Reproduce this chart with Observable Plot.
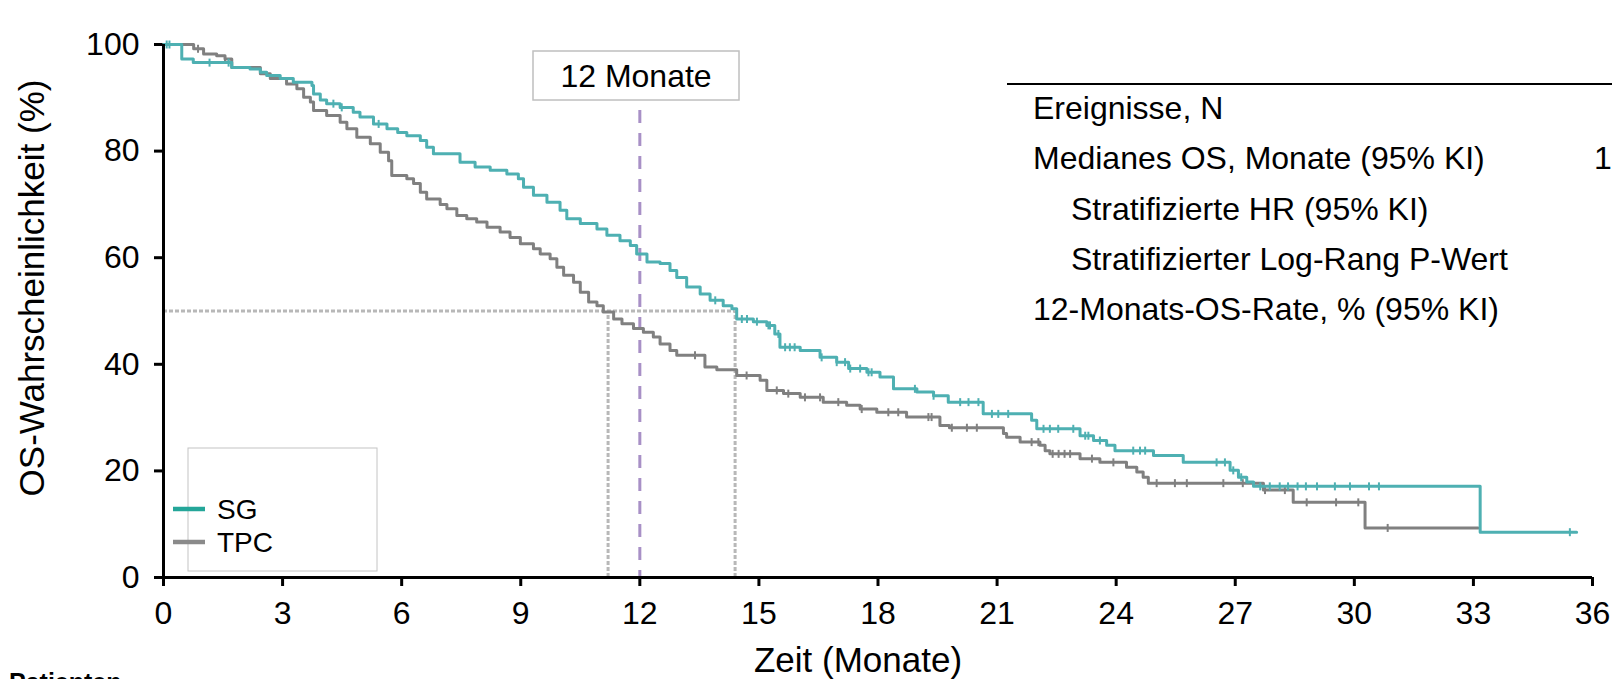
<!DOCTYPE html>
<html>
<head>
<meta charset="utf-8">
<script src="https://cdn.jsdelivr.net/npm/d3@7"></script>
<script src="https://cdn.jsdelivr.net/npm/@observablehq/plot@0.6"></script>
<style>
  html, body { margin: 0; padding: 0; background: #fff; }
  #wrap { width: 1612px; height: 679px; overflow: hidden; position: relative; }
</style>
</head>
<body>
<div id="wrap"></div>
<script>
// ---------- DATA ----------
const seriesNames = ["SG", "TPC"];

const sgTime = [0, 0.46, 0.75, 1.72, 2.18, 2.44, 2.6, 2.94, 3.27, 3.74, 3.78, 3.95, 4.11, 4.45, 4.78, 4.95, 5.29, 5.63, 5.9, 6.13, 6.47, 6.63, 6.8, 7.47, 7.85, 8.23, 8.65, 8.94, 9.07, 9.32, 9.66, 9.99, 10.16, 10.5, 10.92, 11.17, 11.5, 11.76, 11.92, 12.18, 12.51, 12.76, 12.93, 13.18, 13.52, 13.77, 14.1, 14.32, 14.44, 14.86, 15.2, 15.4, 15.53, 16.04, 16.54, 16.96, 17.26, 17.72, 18.05, 18.39, 18.98, 19.4, 19.77, 20.65, 21.87, 22.0, 23.09, 23.43, 23.76, 23.97, 24.94, 25.69, 26.87, 27.08, 27.29, 27.46, 33.17, 35.6];
const sgSurv = [100, 97.3, 96.6, 95.7, 95.4, 94.8, 94.2, 93.6, 92.9, 92.3, 90.7, 89.6, 88.9, 88.2, 87.3, 86.4, 85.1, 84.2, 83.5, 82.9, 82.0, 80.7, 79.5, 77.9, 77.0, 76.4, 75.7, 74.8, 73.2, 71.7, 70.4, 68.9, 67.3, 66.4, 65.4, 64.2, 63.2, 62.3, 60.7, 59.2, 58.9, 57.6, 56.3, 54.5, 53.2, 52.0, 51.0, 50.4, 48.5, 48.0, 47.3, 45.7, 43.2, 42.6, 41.3, 40.4, 39.2, 38.5, 37.6, 35.4, 34.8, 34.1, 32.9, 30.7, 29.5, 27.9, 26.6, 25.7, 24.8, 23.8, 22.9, 21.6, 20.1, 18.8, 17.9, 17.1, 8.5, 8.5];

const tpcTime = [0, 0.76, 1.01, 1.34, 1.55, 1.72, 2.44, 2.69, 3.1, 3.36, 3.53, 3.7, 3.78, 4.11, 4.45, 4.62, 4.87, 5.21, 5.46, 5.67, 5.75, 6.13, 6.3, 6.47, 6.63, 6.97, 7.14, 7.39, 7.64, 7.89, 8.15, 8.48, 8.73, 8.99, 9.32, 9.49, 9.74, 9.91, 10.08, 10.33, 10.5, 10.71, 10.92, 11.08, 11.34, 11.55, 11.84, 12.09, 12.34, 12.51, 12.76, 12.93, 13.64, 13.94, 14.44, 15.03, 15.2, 15.62, 16.04, 16.62, 17.21, 17.55, 17.97, 18.72, 19.56, 19.8, 21.16, 21.24, 21.58, 22.08, 22.21, 22.33, 23.09, 23.59, 24.26, 24.52, 24.68, 24.81, 27.71, 28.46, 30.27, 33.12];
const tpcSurv = [100, 99.2, 98.2, 97.9, 97.3, 95.7, 94.5, 93.6, 92.6, 91.7, 90.1, 89.2, 87.6, 86.7, 85.4, 84.2, 82.6, 81.4, 79.8, 78.2, 75.4, 74.8, 73.9, 72.3, 71.0, 70.0, 69.2, 67.9, 67.3, 66.7, 65.7, 64.8, 63.8, 62.6, 61.7, 60.7, 59.8, 58.2, 56.7, 55.4, 53.5, 51.7, 51.0, 49.8, 48.5, 47.6, 46.7, 46.0, 45.1, 43.8, 42.6, 41.7, 39.5, 39.0, 37.9, 37.0, 35.1, 34.5, 33.8, 32.9, 32.3, 31.6, 31.0, 30.1, 28.5, 28.1, 27.0, 26.3, 25.4, 24.8, 23.8, 23.2, 22.3, 21.6, 20.7, 19.8, 18.8, 17.7, 16.4, 14.1, 9.3, 9.3];

const sgCensor = [0.08, 0.15, 1.16, 1.64, 4.28, 4.49, 5.42, 13.9, 14.57, 14.7, 14.95, 15.24, 15.28, 15.49, 15.66, 15.78, 15.9, 16.58, 16.96, 17.17, 17.3, 17.55, 17.76, 17.84, 18.93, 19.4, 20.07, 20.28, 20.53, 20.87, 21.03, 21.28, 22.17, 22.33, 22.54, 22.92, 23.22, 23.3, 23.59, 24.43, 24.6, 24.73, 26.53, 26.74, 26.95, 27.15, 27.63, 27.87, 28.12, 28.33, 28.57, 28.78, 29.06, 29.51, 29.89, 30.37, 30.62, 35.43];
const tpcCensor = [0.87, 1.55, 13.39, 14.69, 15.45, 15.74, 16.16, 16.54, 17.0, 17.59, 18.26, 18.51, 19.27, 19.35, 19.86, 20.24, 20.49, 21.87, 22.04, 22.4, 22.55, 22.7, 22.84, 23.39, 23.93, 25.02, 25.48, 25.78, 26.7, 27.19, 27.75, 28.25, 28.8, 29.54, 30.1, 30.84];

const medianGroups = ["SG", "TPC"];
const medianMonths = [14.4, 11.2];
const medianLevel = 50;
const landmarkMonth = 12;
const landmarkLabel = "12 Monate";

const xTicks = [0, 3, 6, 9, 12, 15, 18, 21, 24, 27, 30, 33, 36];
const yTicks = [0, 20, 40, 60, 80, 100];
const xLabel = "Zeit (Monate)";
const yLabel = "OS-Wahrscheinlichkeit (%)";

const tableRows = ["Ereignisse, N", "Medianes OS, Monate (95% KI)", "Stratifizierte HR (95% KI)", "Stratifizierter Log-Rang P-Wert", "12-Monats-OS-Rate, % (95% KI)"];
const tableIndent = [0, 0, 1, 1, 0];
const tableSGValues = ["", "1", "", "", ""];
const footerLabel = "Patienten";

// ---------- STYLE ----------
const sgColor = "#4eb0b2";
const tpcColor = "#808080";
const sgLegendColor = "#24a699";
const tpcLegendColor = "#8a8a8a";
const font = "'Liberation Sans', Arial, sans-serif";

// ---------- BUILD ----------
const sgData = sgTime.map((t, i) => ({t, s: sgSurv[i]}));
const tpcData = tpcTime.map((t, i) => ({t, s: tpcSurv[i]}));
function survAt(times, vals, t) {
  let v = vals[0];
  for (let i = 0; i < times.length; i++) { if (times[i] <= t) v = vals[i]; else break; }
  return v;
}
const sgCens = sgCensor.map(t => ({t, s: survAt(sgTime, sgSurv, t)}));
const tpcCens = tpcCensor.map(t => ({t, s: survAt(tpcTime, tpcSurv, t)}));
const medians = medianGroups.map((g, i) => ({group: g, median: medianMonths[i]}));

const censorSymbol = {
  draw(context, size) {
    const h = Math.sqrt(size / Math.PI);
    context.moveTo(0, -h);
    context.lineTo(0, h);
  }
};

const chart = Plot.plot({
  width: 1612,
  height: 679,
  marginTop: 44,
  marginBottom: 102,
  marginLeft: 163,
  marginRight: 20,
  style: {fontFamily: font, fontSize: "32px", color: "#000", background: "#fff"},
  x: {domain: [0, 36]},
  y: {domain: [0, 100]},
  marks: [
    Plot.axisX({ticks: xTicks, tickSize: 9, tickPadding: 15, strokeWidth: 3, label: null, tickFormat: d => String(d)}),
    Plot.axisY({ticks: yTicks, tickSize: 9, tickPadding: 15, strokeWidth: 3, label: null, tickFormat: d => String(d)}),
    // median guides
    Plot.ruleY([medianLevel], {x1: 0, x2: d3.max(medianMonths), stroke: "#b8b8b8", strokeWidth: 3, strokeDasharray: "4,2"}),
    Plot.ruleX(medians, {x: "median", y1: 0, y2: medianLevel, stroke: "#b8b8b8", strokeWidth: 3, strokeDasharray: "4,2"}),
    // landmark
    Plot.ruleX([landmarkMonth], {y1: 87.6, y2: 0, stroke: "#a890c6", strokeWidth: 3, strokeDasharray: "13,10"}),
    // curves
    Plot.line(tpcData, {x: "t", y: "s", curve: "step-after", stroke: tpcColor, strokeWidth: 3}),
    Plot.dot(tpcCens, {x: "t", y: "s", symbol: censorSymbol, r: 4, stroke: tpcColor, strokeWidth: 2, fill: "none"}),
    Plot.line(sgData, {x: "t", y: "s", curve: "step-after", stroke: sgColor, strokeWidth: 3}),
    Plot.dot(sgCens, {x: "t", y: "s", symbol: censorSymbol, r: 4, stroke: sgColor, strokeWidth: 2, fill: "none"}),
    // axis lines
    Plot.ruleY([0], {stroke: "#000", strokeWidth: 3}),
    Plot.ruleX([0], {stroke: "#000", strokeWidth: 3})
  ]
});

document.getElementById("wrap").appendChild(chart);

// ---------- ANNOTATIONS ----------
const svg = d3.select(chart);
const g = svg.append("g").attr("font-family", font).attr("fill", "#000").attr("text-anchor", "start");

// axis titles
g.append("text").attr("x", 858).attr("y", 672).attr("text-anchor", "middle")
  .attr("font-size", 35).text(xLabel);
g.append("text").attr("transform", "translate(44,288) rotate(-90)").attr("text-anchor", "middle")
  .attr("font-size", 35).text(yLabel);

// landmark box
g.append("rect").attr("x", 533).attr("y", 51).attr("width", 206).attr("height", 49)
  .attr("fill", "#fff").attr("stroke", "#bfbfbf").attr("stroke-width", 1.5);
g.append("text").attr("x", 636).attr("y", 87).attr("text-anchor", "middle")
  .attr("font-size", 32).text(landmarkLabel);

// legend
g.append("rect").attr("x", 188).attr("y", 448).attr("width", 189).attr("height", 123)
  .attr("fill", "none").attr("stroke", "#c4c4c4").attr("stroke-width", 1);
const legendColors = [sgLegendColor, tpcLegendColor];
seriesNames.forEach((name, i) => {
  const cy = 509 + i * 33;
  g.append("line").attr("x1", 173).attr("x2", 205).attr("y1", cy).attr("y2", cy)
    .attr("stroke", legendColors[i]).attr("stroke-width", 4.5);
  g.append("text").attr("x", 217).attr("y", cy + 10).attr("text-anchor", "start")
    .attr("font-size", 28).text(name);
});

// table
g.append("line").attr("x1", 1007).attr("x2", 1612).attr("y1", 84).attr("y2", 84)
  .attr("stroke", "#000").attr("stroke-width", 2);
tableRows.forEach((row, i) => {
  const y = 119 + i * 50.25;
  g.append("text").attr("x", tableIndent[i] ? 1071 : 1033).attr("y", y).attr("text-anchor", "start")
    .attr("font-size", 32).text(row);
  if (tableSGValues[i]) {
    g.append("text").attr("x", 1594).attr("y", y).attr("text-anchor", "start")
      .attr("font-size", 32).text(tableSGValues[i]);
  }
});

// footer (cut off at bottom, as in the reference)
g.append("text").attr("x", 9).attr("y", 691).attr("text-anchor", "start")
  .attr("font-size", 25).attr("font-weight", "bold").text(footerLabel);
</script>
</body>
</html>
